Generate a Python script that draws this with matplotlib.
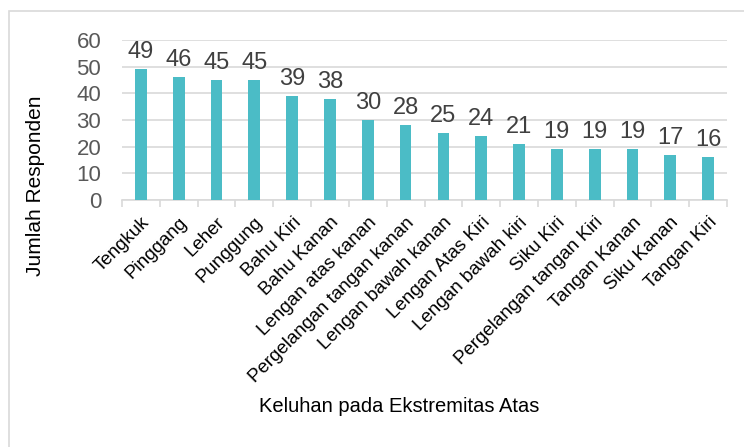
import matplotlib.pyplot as plt
import numpy as np

plt.rcParams['font.family'] = ['Liberation Sans', 'DejaVu Sans']

categories = ['Tengkuk', 'Pinggang', 'Leher', 'Punggung', 'Bahu Kiri',
              'Bahu Kanan', 'Lengan atas kanan', 'Pergelangan tangan kanan',
              'Lengan bawah kanan', 'Lengan Atas Kiri', 'Lengan bawah kiri',
              'Siku Kiri', 'Pergelangan tangan Kiri', 'Tangan Kanan',
              'Siku Kanan', 'Tangan Kiri']
values = [49, 46, 45, 45, 39, 38, 30, 28, 25, 24, 21, 19, 19, 19, 17, 16]
yticks = [0, 10, 20, 30, 40, 50, 60]

bar_color = '#4BBCC6'
text_color = '#404040'
grid_color = '#D9D9D9'

W, H = 744, 447
fig = plt.figure(figsize=(W / 100, H / 100), dpi=100)
ax = fig.add_axes([122 / W, 1 - 200 / H, (727 - 122) / W, 160 / H])

# chart border
fig.patches.append(plt.Rectangle((9 / W, -0.01), 1.0, 1 - 11 / H + 0.01,
                                 transform=fig.transFigure, fill=False,
                                 edgecolor=grid_color, linewidth=1.2))

x = np.arange(len(categories))
ax.bar(x, values, width=0.31, color=bar_color, zorder=3)

for xi, v in zip(x, values):
    ax.text(xi, v + 2.3, str(v), ha='center', va='bottom',
            fontsize=17, color=text_color)

ax.set_xlim(-0.5, len(categories) - 0.5)
ax.set_ylim(0, 60)
ax.set_yticks(yticks)
ax.yaxis.grid(True, color=grid_color, linewidth=1.2, zorder=0)
ax.tick_params(axis='y', length=0, labelsize=16, labelcolor='#595959', pad=15)

ax.set_xticks(x)
ax.set_xticklabels(categories, rotation=45, ha='right', rotation_mode='anchor',
                   fontsize=13.5, color='black')
ax.tick_params(axis='x', length=0, pad=10)
ax.set_xticks(np.arange(len(categories) + 1) - 0.5, minor=True)
ax.tick_params(axis='x', which='minor', length=5, color=grid_color, width=1.2)

for s in ['top', 'right', 'left']:
    ax.spines[s].set_visible(False)
ax.spines['bottom'].set_color(grid_color)
ax.spines['bottom'].set_linewidth(1.2)

fig.text(36 / W, 1 - 186 / H, 'Jumlah Responden', rotation=90,
         ha='center', va='center', fontsize=15, color='black')
fig.text(399 / W, 1 - 407 / H, 'Keluhan pada Ekstremitas Atas',
         ha='center', va='center', fontsize=14.5, color='black')

fig.savefig('out.png', dpi=100)
